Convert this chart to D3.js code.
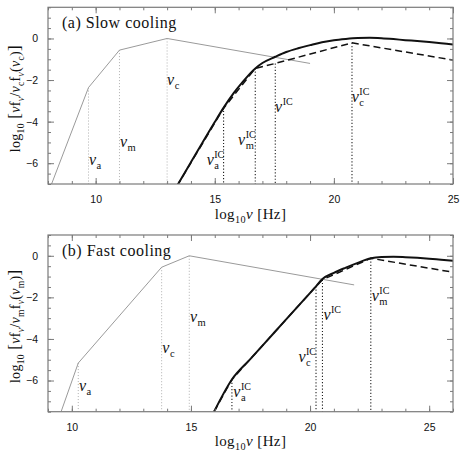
<!DOCTYPE html>
<html>
<head>
<meta charset="utf-8">
<script src="https://cdn.jsdelivr.net/npm/d3@7"></script>
<style>
  body { margin: 0; background: #fff; }
  svg { display: block; }
</style>
</head>
<body>
<script>
var width = 460;
var height = 452;

// ---- panel (a): slow cooling ----
var slowSyncNu = [8.15, 9.7, 11.0, 13.0, 19.0];
var slowSyncF  = [-7.0, -2.36, -0.56, 0.0, -1.2];
var slowIcNu = [13.4, 14.0, 14.5, 15.0, 15.4, 15.8, 16.2, 16.7, 17.0, 17.54, 18.0, 18.5, 19.0, 19.5, 20.0, 20.5, 21.0, 21.5, 22.0, 22.5, 23.0, 23.5, 24.0, 24.5, 25.0];
var slowIcF  = [-7.12, -5.95, -4.98, -4.02, -3.28, -2.62, -2.05, -1.44, -1.18, -0.88, -0.65, -0.47, -0.32, -0.18, -0.08, -0.02, 0.02, 0.03, 0.01, -0.03, -0.08, -0.12, -0.17, -0.23, -0.29];
var slowDashNu = [13.4, 15.37, 16.7, 17.54, 20.76, 25.0];
var slowDashF  = [-7.12, -3.36, -1.44, -1.2, -0.21, -1.04];
var slowSyncBreakNu = [9.7, 11.0, 13.0];
var slowSyncBreakF  = [-2.36, -0.56, 0.0];
var slowIcBreakNu = [15.37, 16.7, 17.54, 20.76];
var slowIcBreakF  = [-3.33, -1.44, -1.2, -0.21];
var slowLabelNu  = [9.72, 11.02, 13.0, 14.66, 15.98, 17.53, 20.75];
var slowLabelF   = [-6.08, -5.2, -2.24, -6.08, -5.13, -3.52, -3.04];
var slowLabelSub = ['a', 'm', 'c', 'a', 'm', '', 'c'];
var slowLabelSup = ['', '', '', 'IC', 'IC', 'IC', 'IC'];

// ---- panel (b): fast cooling ----
var fastSyncNu = [9.55, 10.27, 13.77, 14.93, 21.85];
var fastSyncF  = [-7.5, -5.16, -0.55, 0.0, -1.4];
var fastIcNu = [15.97, 16.72, 17.5, 18.5, 19.5, 20.25, 20.52, 21.0, 21.5, 22.0, 22.55, 23.0, 23.5, 24.0, 24.5, 25.0, 25.5, 26.0];
var fastIcF  = [-7.5, -5.95, -4.96, -3.69, -2.42, -1.47, -1.12, -0.82, -0.57, -0.34, -0.12, -0.06, -0.05, -0.07, -0.1, -0.14, -0.19, -0.24];
var fastDashNu = [15.97, 16.72, 20.25, 20.52, 22.55, 26.0];
var fastDashF  = [-7.5, -5.95, -1.47, -1.15, -0.12, -0.79];
var fastSyncBreakNu = [10.27, 13.77, 14.93];
var fastSyncBreakF  = [-5.16, -0.55, 0.0];
var fastIcBreakNu = [16.72, 20.25, 20.52, 22.55];
var fastIcBreakF  = [-5.95, -1.47, -1.15, -0.12];
var fastLabelNu  = [10.3, 13.8, 14.96, 16.78, 19.51, 20.56, 22.59];
var fastLabelF   = [-6.52, -4.69, -3.17, -6.78, -5.09, -3.09, -2.17];
var fastLabelSub = ['a', 'c', 'm', 'a', 'c', '', 'm'];
var fastLabelSup = ['', '', '', 'IC', 'IC', 'IC', 'IC'];

var yTickLabels = [0, -2, -4, -6];
var xTickLabels = [10, 15, 20, 25];

var serif = '"Liberation Serif", "Times New Roman", serif';
var sans = '"Liberation Sans", Arial, sans-serif';
var frameColor = '#7a7a7a';

var svg = d3.select('body').append('svg')
  .attr('width', width)
  .attr('height', height);

function zip(a, b) { return a.map(function(v, i) { return [v, b[i]]; }); }

// rich text: parts = [{t, sub, it, size}]
function richText(sel, parts, size) {
  var shift = 0;
  parts.forEach(function(p) {
    var target = p.sub ? 4 : 0;
    var ts = sel.append('tspan').text(p.t)
      .attr('dy', target - shift)
      .attr('font-size', p.sub ? size * 0.68 : (p.size || size));
    if (p.it) ts.attr('font-style', 'italic');
    shift = target;
  });
}

function drawPanel(cfg) {
  var x = d3.scaleLinear().domain(cfg.xDomain).range([48, 453]);
  var y = d3.scaleLinear().domain(cfg.yDomain).range([cfg.bottom, cfg.top]);
  var g = svg.append('g');

  var clipId = 'clip' + cfg.id;
  g.append('clipPath').attr('id', clipId)
    .append('rect').attr('x', 48).attr('y', cfg.top)
    .attr('width', 405).attr('height', cfg.bottom - cfg.top);

  var plot = g.append('g').attr('clip-path', 'url(#' + clipId + ')');
  var line = d3.line().x(function(d) { return x(d[0]); }).y(function(d) { return y(d[1]); });
  var smooth = d3.line().curve(d3.curveMonotoneX)
    .x(function(d) { return x(d[0]); }).y(function(d) { return y(d[1]); });

  // dotted break markers
  plot.selectAll('.sb').data(zip(cfg.syncBreakNu, cfg.syncBreakF)).enter().append('line')
    .attr('x1', function(d) { return x(d[0]); }).attr('x2', function(d) { return x(d[0]); })
    .attr('y1', function(d) { return y(d[1]); }).attr('y2', cfg.bottom)
    .attr('stroke', '#b0b0b0').attr('stroke-width', 1).attr('stroke-dasharray', '1,2');
  plot.selectAll('.ib').data(zip(cfg.icBreakNu, cfg.icBreakF)).enter().append('line')
    .attr('x1', function(d) { return x(d[0]); }).attr('x2', function(d) { return x(d[0]); })
    .attr('y1', function(d) { return y(d[1]); }).attr('y2', cfg.bottom)
    .attr('stroke', '#222').attr('stroke-width', 1.1).attr('stroke-dasharray', '1.2,2');

  plot.append('path').datum(zip(cfg.syncNu, cfg.syncF))
    .attr('d', line).attr('fill', 'none').attr('stroke', '#9a9a9a').attr('stroke-width', 1);
  plot.append('path').datum(zip(cfg.dashNu, cfg.dashF))
    .attr('d', line).attr('fill', 'none').attr('stroke', '#111')
    .attr('stroke-width', 1.5).attr('stroke-dasharray', '7,4');
  plot.append('path').datum(zip(cfg.icNu, cfg.icF))
    .attr('d', smooth).attr('fill', 'none').attr('stroke', '#111').attr('stroke-width', 2);

  // frame + ticks (inward on all sides)
  function axisStyle(a) {
    a.select('.domain').remove();
    a.selectAll('.tick line').attr('stroke', frameColor).attr('stroke-width', 1);
  }
  var xMinor = d3.range(Math.ceil(cfg.xDomain[0]), cfg.xDomain[1] + 0.01, 1);
  var xMajor = xTickLabels.filter(function(v) { return v >= cfg.xDomain[0] && v <= cfg.xDomain[1]; });
  var yMinor = d3.range(Math.ceil(cfg.yDomain[0] * 2) / 2, cfg.yDomain[1] + 0.01, 0.5);

  g.append('g').attr('transform', 'translate(0,' + cfg.bottom + ')')
    .call(d3.axisBottom(x).tickValues(xMinor).tickSize(-3).tickFormat('')).call(axisStyle);
  g.append('g').attr('transform', 'translate(0,' + cfg.bottom + ')')
    .call(d3.axisBottom(x).tickValues(xMajor).tickSize(-6).tickPadding(12)).call(axisStyle)
    .selectAll('text').attr('font-family', sans).attr('font-size', 10.5).attr('fill', '#111');
  g.append('g').attr('transform', 'translate(0,' + cfg.top + ')')
    .call(d3.axisTop(x).tickValues(xMinor).tickSize(-3).tickFormat('')).call(axisStyle);
  g.append('g').attr('transform', 'translate(0,' + cfg.top + ')')
    .call(d3.axisTop(x).tickValues(xMajor).tickSize(-6).tickFormat('')).call(axisStyle);

  g.append('g').attr('transform', 'translate(48,0)')
    .call(d3.axisLeft(y).tickValues(yMinor).tickSize(-3).tickFormat('')).call(axisStyle);
  g.append('g').attr('transform', 'translate(48,0)')
    .call(d3.axisLeft(y).tickValues(yTickLabels).tickSize(-6).tickPadding(10).tickFormat(d3.format('d'))).call(axisStyle)
    .selectAll('text').attr('font-family', sans).attr('font-size', 10.5).attr('fill', '#111');
  g.append('g').attr('transform', 'translate(453,0)')
    .call(d3.axisRight(y).tickValues(yMinor).tickSize(-3).tickFormat('')).call(axisStyle);
  g.append('g').attr('transform', 'translate(453,0)')
    .call(d3.axisRight(y).tickValues(yTickLabels).tickSize(-6).tickFormat('')).call(axisStyle);

  g.append('rect').attr('x', 48).attr('y', cfg.top)
    .attr('width', 405).attr('height', cfg.bottom - cfg.top)
    .attr('fill', 'none').attr('stroke', frameColor).attr('stroke-width', 1.2);

  // break labels
  cfg.labelNu.forEach(function(nu, i) {
    var lx = x(nu), ly = y(cfg.labelF[i]);
    var t = g.append('text').attr('x', lx).attr('y', ly)
      .attr('font-family', serif).attr('font-style', 'italic').attr('font-size', 16)
      .attr('fill', '#111').text('ν');
    var w = t.node().getComputedTextLength() + 0.5;
    if (cfg.labelSub[i]) {
      g.append('text').attr('x', lx + w).attr('y', ly + 4)
        .attr('font-family', serif).attr('font-size', 10.5).attr('fill', '#111')
        .text(cfg.labelSub[i]);
    }
    if (cfg.labelSup[i]) {
      g.append('text').attr('x', lx + w).attr('y', ly - 7)
        .attr('font-family', serif).attr('font-size', 10).attr('fill', '#111')
        .text(cfg.labelSup[i]);
    }
  });

  // panel title
  g.append('text').attr('x', 62).attr('y', cfg.top + 20.5)
    .attr('font-family', serif).attr('font-size', 16).attr('letter-spacing', 0.5)
    .attr('fill', '#111').text(cfg.title);

  // x axis title
  var xt = g.append('text').attr('x', 250.5).attr('y', cfg.bottom + 34.5)
    .attr('text-anchor', 'middle').attr('font-family', serif).attr('font-size', 15)
    .attr('letter-spacing', 0.4).attr('fill', '#111');
  richText(xt, [{t: 'log'}, {t: '10', sub: true}, {t: 'ν', it: true}, {t: ' [Hz]'}], 15);

  // y axis title
  var yc = (cfg.top + cfg.bottom) / 2 + 3;
  var yt = g.append('text').attr('transform', 'translate(20,' + yc + ') rotate(-90)')
    .attr('text-anchor', 'middle').attr('font-family', serif).attr('font-size', 14)
    .attr('letter-spacing', 0.3).attr('fill', '#111');
  richText(yt, [
    {t: 'log'}, {t: '10', sub: true}, {t: ' [', size: 17}, {t: 'ν', it: true}, {t: 'f'},
    {t: 'ν', sub: true, it: true}, {t: '/'}, {t: 'ν', it: true}, {t: cfg.ref, sub: true},
    {t: 'f'}, {t: 'ν', sub: true, it: true}, {t: '('}, {t: 'ν', it: true},
    {t: cfg.ref, sub: true}, {t: ')'}, {t: ']', size: 17}
  ], 14);
}

drawPanel({
  id: 'a', title: '(a) Slow cooling', ref: 'c',
  xDomain: [8, 25], yDomain: [-7, 1.5], top: 7.3, bottom: 184,
  syncNu: slowSyncNu, syncF: slowSyncF, icNu: slowIcNu, icF: slowIcF,
  dashNu: slowDashNu, dashF: slowDashF,
  syncBreakNu: slowSyncBreakNu, syncBreakF: slowSyncBreakF,
  icBreakNu: slowIcBreakNu, icBreakF: slowIcBreakF,
  labelNu: slowLabelNu, labelF: slowLabelF, labelSub: slowLabelSub, labelSup: slowLabelSup
});

drawPanel({
  id: 'b', title: '(b) Fast cooling', ref: 'm',
  xDomain: [9, 26], yDomain: [-7.5, 1], top: 235, bottom: 411.7,
  syncNu: fastSyncNu, syncF: fastSyncF, icNu: fastIcNu, icF: fastIcF,
  dashNu: fastDashNu, dashF: fastDashF,
  syncBreakNu: fastSyncBreakNu, syncBreakF: fastSyncBreakF,
  icBreakNu: fastIcBreakNu, icBreakF: fastIcBreakF,
  labelNu: fastLabelNu, labelF: fastLabelF, labelSub: fastLabelSub, labelSup: fastLabelSup
});
</script>
</body>
</html>
